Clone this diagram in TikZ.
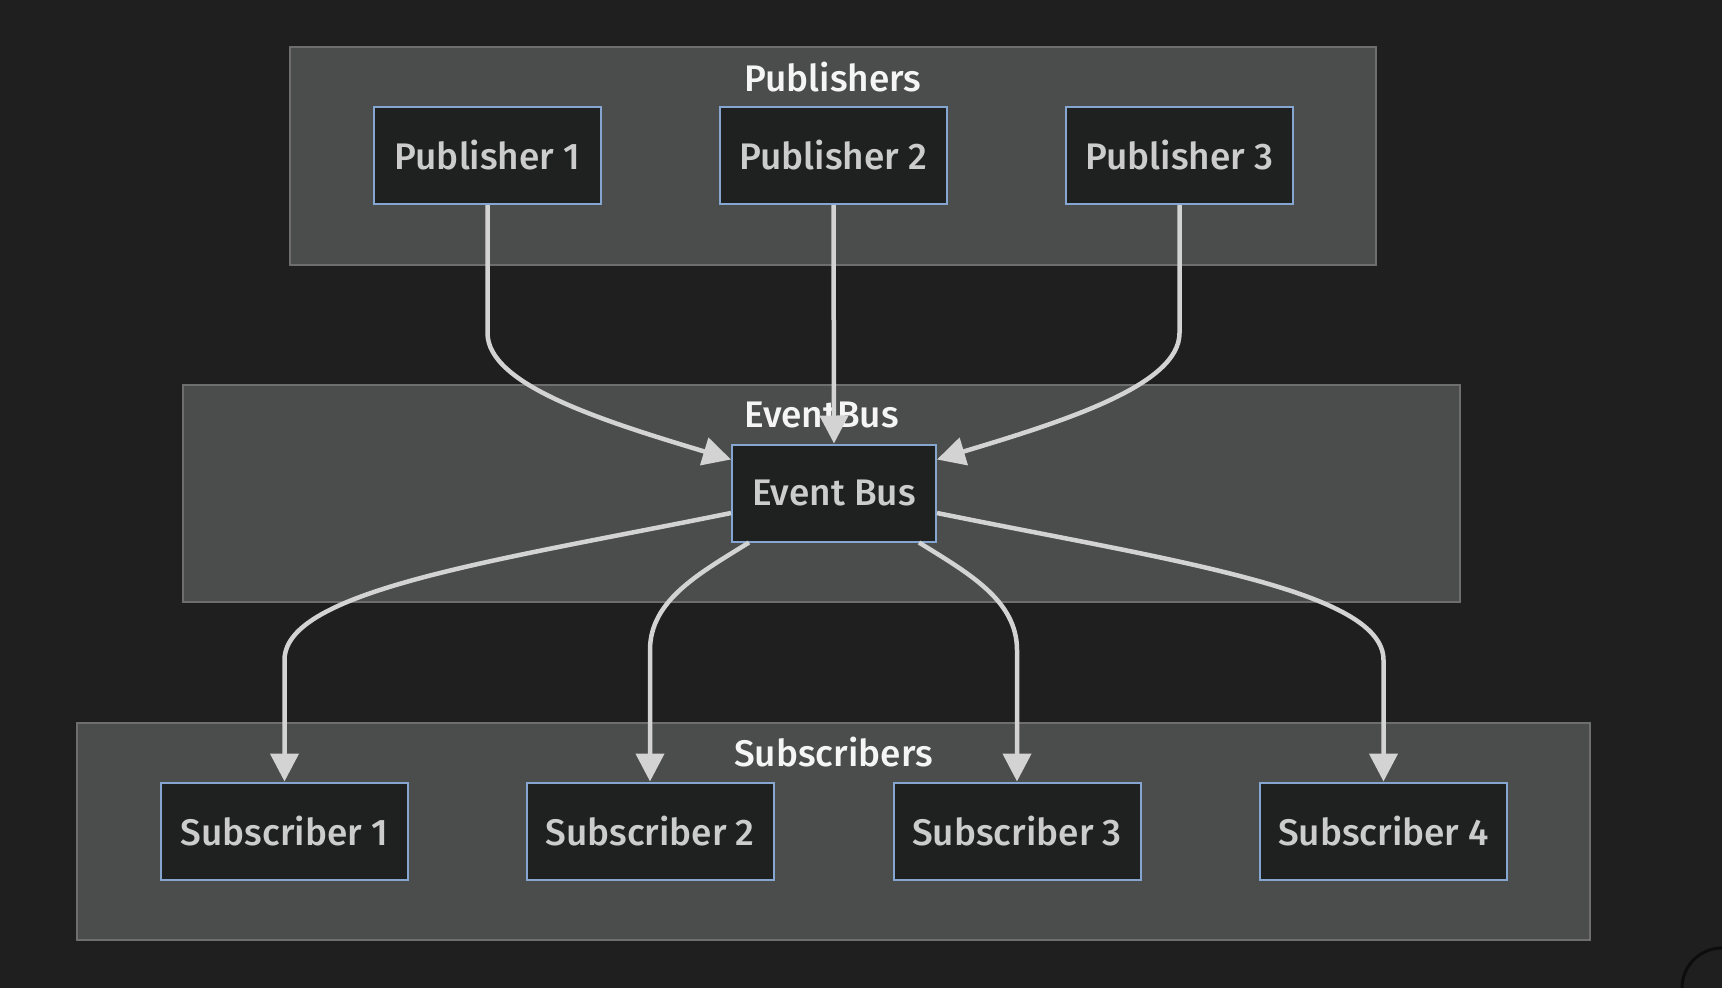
\documentclass[tikz,border=0pt]{standalone}
\usepackage{fontspec}
\setmainfont{Fira Sans}[UprightFont=* Medium]
\usetikzlibrary{arrows.meta,calc}
\definecolor{bgc}{HTML}{1F1F1F}
\definecolor{clfill}{HTML}{4B4C4C}
\definecolor{cldraw}{HTML}{6E6E6E}
\definecolor{ndfill}{HTML}{1F2020}
\definecolor{nddraw}{HTML}{84A6D0}
\definecolor{ndtext}{HTML}{CCCCCC}
\definecolor{cltext}{HTML}{F5F5F5}
\definecolor{edgec}{HTML}{D3D3D3}
\definecolor{ringc}{HTML}{0D0D0D}
\tikzset{
  cluster/.style={fill=clfill,draw=cldraw,line width=2pt},
  cllabel/.style={text=cltext,font=\fontsize{37}{42}\selectfont,inner sep=0pt},
  box/.style={draw=nddraw,fill=ndfill,line width=2pt,text=ndtext,
    font=\fontsize{37}{42}\selectfont,minimum height=97pt,inner sep=0pt},
  pubbox/.style={box,minimum width=227pt},
  subbox/.style={box,minimum width=247pt},
  link/.style={draw=edgec,line width=4.5pt,-{Triangle[length=28pt,width=28pt]}},
}
\begin{document}
\begin{tikzpicture}[x=1pt,y=-1pt]
\useasboundingbox (0,0) rectangle (1722,988);
\fill[bgc] (0,0) rectangle (1722,988);
% clusters
\draw[cluster] (290,47) rectangle (1376,265);
\draw[cluster] (183,385) rectangle (1460,602);
\draw[cluster] (77,723) rectangle (1590,940);
\node[cllabel] (lpub) at (833,77) {Publishers};
\node[cllabel] (leb) at (821.5,415) {EventBus};
\node[cllabel] (lsub) at (833.5,752) {Subscribers};
% nodes
\node[pubbox] (p1) at (487.5,155.5) {Publisher 1};
\node[pubbox] (p2) at (833.5,155.5) {Publisher 2};
\node[pubbox] (p3) at (1179.5,155.5) {Publisher 3};
\node[box,minimum width=204pt] (eb) at (834,493) {Event Bus};
\node[subbox] (s1) at (284.5,831) {Subscriber 1};
\node[subbox] (s2) at (650,831) {Subscriber 2};
\node[subbox] (s3) at (1017,831) {Subscriber 3};
\node[subbox] (s4) at (1383.5,831) {Subscriber 4};
% edges publishers -> bus
\draw[link] (p1.south) -- (487.5,333) .. controls (487.5,385) and (603,421) .. ($(eb.north west)+(0,16)$);
\draw[link] (p2.south) -- (eb.north);
\draw[link] (p3.south) -- (1179.5,333) .. controls (1179.5,385) and (1065,421) .. ($(eb.north east)+(0,16)$);
% edges bus -> subscribers
\draw[link] ($(eb.west)+(0,20)$) .. controls (500,560) and (284.5,590) .. (284.5,660) -- (s1.north);
\draw[link] ($(eb.south west)+(18,0)$) .. controls (700,573) and (650,600) .. (650,650) -- (s2.north);
\draw[link] ($(eb.south east)+(-18,0)$) .. controls (968,573) and (1017,600) .. (1017,650) -- (s3.north);
\draw[link] ($(eb.east)+(0,20)$) .. controls (1168,560) and (1383.5,590) .. (1383.5,660) -- (s4.north);
% corner ring
\draw[ringc,line width=3pt] (1722,988) circle[radius=40];
\end{tikzpicture}
\end{document}
